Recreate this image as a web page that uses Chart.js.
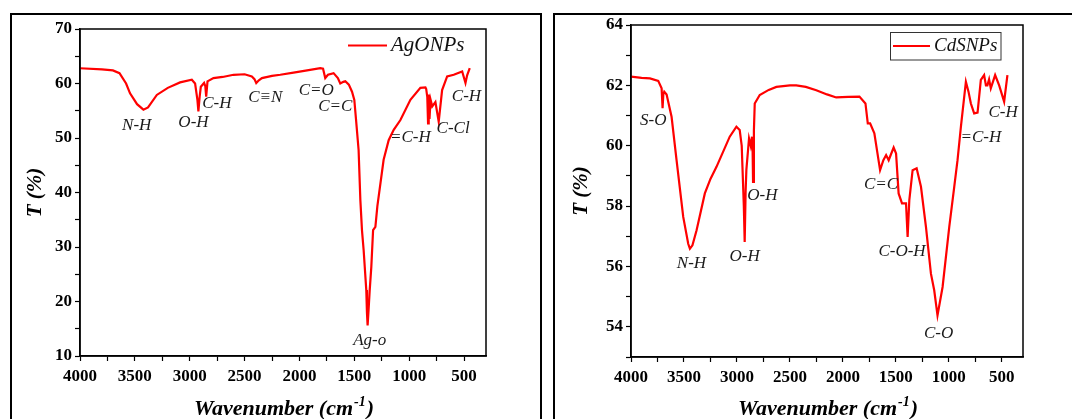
<!DOCTYPE html>
<html>
<head>
<meta charset="utf-8">
<script src="https://cdn.jsdelivr.net/npm/chart.js@4.4.1/dist/chart.umd.min.js"></script>
<style>
  html, body { margin: 0; padding: 0; background: #fff; width: 1072px; height: 419px; overflow: hidden; }
  canvas { position: absolute; top: 0; }
  #agCanvas { left: 0; }
  #cdCanvas { left: 548px; }
  .frame { position: absolute; top: 13px; height: 440px; border: 2px solid #000; box-sizing: border-box; pointer-events: none; }
  #frameL { left: 10px; width: 532px; }
  #frameR { left: 553px; width: 540px; }
</style>
</head>
<body>
<canvas id="agCanvas" width="545" height="419"></canvas>
<canvas id="cdCanvas" width="524" height="419"></canvas>
<div class="frame" id="frameL"></div>
<div class="frame" id="frameR"></div>
<script>
// AgONPs spectrum (wavenumber cm-1, transmittance %)
var agWavenumber = [4000, 3800, 3700, 3640, 3580, 3544, 3480, 3422, 3380, 3300, 3200, 3088, 2981, 2951, 2930, 2921, 2910, 2899, 2869, 2858, 2850, 2838, 2784, 2700, 2601, 2500, 2434, 2410, 2394, 2370, 2342, 2250, 2175, 2054, 1930, 1810, 1785, 1765, 1740, 1689, 1650, 1628, 1600, 1582, 1550, 1521, 1500, 1485, 1461, 1445, 1430, 1415, 1391, 1385, 1379, 1370, 1360, 1345, 1329, 1308, 1290, 1233, 1187, 1141, 1080, 989, 898, 852, 845, 835, 828, 822, 815, 805, 790, 761, 731, 700, 654, 594, 517, 487, 472, 448];
var agTransmittance = [62.8, 62.6, 62.4, 61.9, 60.0, 58.2, 56.2, 55.2, 55.6, 57.9, 59.2, 60.2, 60.7, 60.0, 57.0, 54.9, 57.5, 59.4, 60.1, 59.5, 57.6, 60.4, 61.0, 61.2, 61.6, 61.7, 61.3, 60.8, 60.1, 60.6, 61.0, 61.4, 61.6, 62.0, 62.4, 62.8, 62.7, 61.0, 61.6, 61.9, 61.0, 60.0, 60.3, 60.4, 59.8, 58.5, 57.0, 53.5, 47.8, 38.6, 33.0, 29.4, 22.1, 18.0, 15.6, 18.5, 22.0, 26.4, 33.1, 33.7, 37.5, 46.0, 49.6, 51.5, 53.3, 57.0, 59.2, 59.3, 59.0, 57.5, 52.7, 58.0, 53.5, 57.0, 55.8, 56.6, 53.0, 58.8, 61.3, 61.6, 62.2, 60.1, 61.5, 62.8];

// CdSNPs spectrum
var cdWavenumber = [4000, 3900, 3821, 3743, 3711, 3702, 3695, 3686, 3664, 3617, 3570, 3507, 3460, 3444, 3420, 3381, 3303, 3250, 3193, 3068, 3005, 2974, 2955, 2948, 2935, 2927, 2918, 2911, 2886, 2870, 2858, 2852, 2848, 2840, 2832, 2785, 2700, 2628, 2500, 2440, 2350, 2251, 2150, 2063, 1950, 1844, 1787, 1765, 1743, 1703, 1649, 1618, 1592, 1568, 1521, 1498, 1474, 1442, 1404, 1389, 1373, 1342, 1304, 1263, 1216, 1169, 1138, 1107, 1059, 996, 949, 918, 886, 839, 815, 792, 761, 729, 698, 667, 650, 636, 620, 604, 563, 525, 478, 447];
var cdTransmittance = [62.29, 62.25, 62.23, 62.15, 61.9, 61.24, 61.7, 61.79, 61.7, 60.96, 59.52, 57.64, 56.75, 56.59, 56.7, 57.2, 58.42, 58.9, 59.3, 60.3, 60.63, 60.52, 60.0, 59.3, 58.0, 56.81, 58.5, 59.2, 60.24, 60.0, 60.3, 59.8, 58.8, 60.5, 61.4, 61.68, 61.85, 61.95, 62.0, 62.0, 61.95, 61.84, 61.7, 61.6, 61.62, 61.63, 61.4, 60.74, 60.74, 60.41, 59.19, 59.52, 59.69, 59.52, 59.94, 59.74, 58.42, 58.09, 58.09, 56.98, 58.2, 59.19, 59.25, 58.64, 57.31, 55.76, 55.21, 54.38, 55.32, 57.31, 58.64, 59.52, 60.63, 62.12, 61.8, 61.4, 61.07, 61.1, 62.18, 62.34, 62.0, 62.0, 62.2, 61.9, 62.34, 62.0, 61.46, 62.34];

// x axis ticks (major ones get a label)
var xTicks = [4000, 3750, 3500, 3250, 3000, 2750, 2500, 2250, 2000, 1750, 1500, 1250, 1000, 750, 500];
var xTickLabels = [4000, 3500, 3000, 2500, 2000, 1500, 1000, 500];

// peak labels: text, anchored at (wavenumber, T)
var agLabelText = ['N-H', 'O-H', 'C-H', 'C\u2261N', 'C=O', 'C=C', '=C-H', 'C-Cl', 'C-H', 'Ag-o'];
var agLabelWn   = [3483, 2966, 2753, 2312, 1847, 1673, 989, 600, 478, 1360];
var agLabelT    = [52.2, 52.8, 56.3, 57.5, 58.8, 55.8, 50.0, 51.8, 57.6, 12.9];

var cdLabelText = ['S-O', 'N-H', 'O-H', 'O-H', 'C=C', 'C-O-H', 'C-O', '=C-H', 'C-H'];
var cdLabelWn   = [3790, 3429, 2927, 2760, 1640, 1442, 1097, 698, 488];
var cdLabelT    = [60.85, 56.1, 56.32, 58.36, 58.73, 56.48, 53.77, 60.28, 61.09];

var SERIF = '"Liberation Serif", "Times New Roman", serif';

function toPoints(xs, ys) {
  var pts = [];
  for (var i = 0; i < xs.length; i++) pts.push({ x: xs[i], y: ys[i] });
  return pts;
}

// frame, peak labels, legend and axis titles
var decor = {
  id: 'decor',
  afterDraw: function (chart, args, opts) {
    var ctx = chart.ctx, a = chart.chartArea;
    var xs = chart.scales.x, ys = chart.scales.y;
    ctx.save();
    ctx.strokeStyle = '#000';
    ctx.lineWidth = 1.5;
    ctx.strokeRect(a.left, a.top, a.right - a.left, a.bottom - a.top);

    ctx.fillStyle = '#1a1a1a';
    ctx.font = 'italic 17px ' + SERIF;
    ctx.textAlign = 'center';
    ctx.textBaseline = 'middle';
    for (var i = 0; i < opts.labels.length; i++) {
      ctx.fillText(opts.labels[i], xs.getPixelForValue(opts.labelWn[i]), ys.getPixelForValue(opts.labelT[i]));
    }

    // legend
    var lg = opts.legend;
    if (lg.box) {
      ctx.strokeStyle = '#333';
      ctx.lineWidth = 1;
      ctx.strokeRect(lg.box[0], lg.box[1], lg.box[2], lg.box[3]);
    }
    ctx.strokeStyle = '#ff0000';
    ctx.lineWidth = 2.2;
    ctx.beginPath();
    ctx.moveTo(lg.x, lg.y);
    ctx.lineTo(lg.x + lg.len, lg.y);
    ctx.stroke();
    ctx.fillStyle = '#111';
    ctx.font = 'italic ' + lg.size + 'px ' + SERIF;
    ctx.textAlign = 'left';
    ctx.fillText(lg.text, lg.x + lg.len + 4, lg.y);

    // x title with superscript
    ctx.fillStyle = '#000';
    var main = 'Wavenumber (cm', sup = '-1', tail = ')';
    ctx.font = 'italic bold 22px ' + SERIF;
    var w1 = ctx.measureText(main).width, w3 = ctx.measureText(tail).width;
    ctx.font = 'italic bold 14px ' + SERIF;
    var w2 = ctx.measureText(sup).width;
    var cx = (a.left + a.right) / 2, x0 = cx - (w1 + w2 + w3) / 2, by = 415;
    ctx.textBaseline = 'alphabetic';
    ctx.font = 'italic bold 22px ' + SERIF;
    ctx.fillText(main, x0, by);
    ctx.font = 'italic bold 14px ' + SERIF;
    ctx.fillText(sup, x0 + w1 + 1, by - 9);
    ctx.font = 'italic bold 22px ' + SERIF;
    ctx.fillText(tail, x0 + w1 + w2 + 2, by);

    // y title
    ctx.translate(opts.yTitleX, (a.top + a.bottom) / 2);
    ctx.rotate(-Math.PI / 2);
    ctx.textAlign = 'center';
    ctx.textBaseline = 'middle';
    ctx.font = 'italic bold 21px ' + SERIF;
    ctx.fillText('T (%)', 0, 0);
    ctx.restore();
  }
};

function makeChart(id, xs, ys, yMin, yMax, yStep, yLabelEvery, pad, decorOpts) {
  return new Chart(document.getElementById(id).getContext('2d'), {
    type: 'line',
    data: {
      datasets: [{
        data: toPoints(xs, ys),
        borderColor: '#ff0000',
        borderWidth: 2.2,
        pointRadius: 0,
        tension: 0,
        fill: false
      }]
    },
    options: {
      responsive: false,
      animation: false,
      layout: { padding: pad },
      plugins: { legend: { display: false }, tooltip: { enabled: false }, decor: decorOpts },
      scales: {
        x: {
          type: 'linear',
          reverse: true,
          min: 300,
          max: 4000,
          afterFit: function (s) { s.height = 40; },
          afterBuildTicks: function (s) { s.ticks = xTicks.map(function (v) { return { value: v }; }); },
          ticks: {
            autoSkip: false,
            maxRotation: 0,
            padding: 5,
            color: '#000',
            font: { family: SERIF, size: 17, weight: 'bold' },
            callback: function (v) { return xTickLabels.indexOf(v) >= 0 ? String(v) : ''; }
          },
          grid: { drawOnChartArea: false, tickLength: 5, color: '#000', tickWidth: 1.2 },
          border: { color: '#000', width: 1.5 }
        },
        y: {
          min: yMin,
          max: yMax,
          afterFit: function (s) { s.width = 50; },
          ticks: {
            stepSize: yStep,
            padding: 3,
            color: '#000',
            font: { family: SERIF, size: 17, weight: 'bold' },
            callback: function (v) { return v % yLabelEvery === 0 ? v : ''; }
          },
          grid: { drawOnChartArea: false, tickLength: 5, color: '#000', tickWidth: 1.2 },
          border: { color: '#000', width: 1.5 }
        }
      }
    },
    plugins: [decor]
  });
}

makeChart('agCanvas', agWavenumber, agTransmittance, 10, 70, 5, 10,
  { left: 30, top: 29, right: 59, bottom: 23 },
  { labels: agLabelText, labelWn: agLabelWn, labelT: agLabelT, yTitleX: 36,
    legend: { text: 'AgONPs', x: 348, y: 45.5, len: 39, size: 21 } });

makeChart('cdCanvas', cdWavenumber, cdTransmittance, 53, 64, 1, 2,
  { left: 33, top: 25, right: 49, bottom: 22 },
  { labels: cdLabelText, labelWn: cdLabelWn, labelT: cdLabelT, yTitleX: 34,
    legend: { text: 'CdSNPs', x: 345, y: 46, len: 37, size: 19, box: [342.5, 32.5, 110.5, 27.5] } });
</script>
</body>
</html>
